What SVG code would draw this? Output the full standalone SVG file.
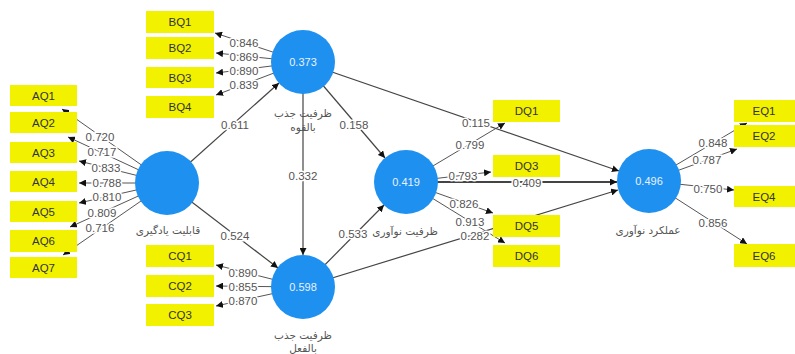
<svg xmlns="http://www.w3.org/2000/svg" width="795" height="354" viewBox="0 0 795 354">
<defs>
<marker id="ah" viewBox="0 0 8 8" refX="8" refY="4" markerWidth="7" markerHeight="7" markerUnits="userSpaceOnUse" orient="auto">
<path d="M0,0 L8,4 L0,8 z" fill="#111"/>
</marker>
</defs>
<style>
.ln{stroke:#555;stroke-width:1;fill:none;marker-end:url(#ah)}
.in{stroke:#444;stroke-width:1.2;fill:none;marker-end:url(#ah)}
.lb{font-family:"Liberation Sans",Arial,sans-serif;font-size:11.5px;fill:#555;text-anchor:middle;dominant-baseline:central;stroke:#fff;stroke-width:3;paint-order:stroke}
.box rect{fill:#f2f200}
.box text{font-family:"Liberation Sans",Arial,sans-serif;font-size:11.5px;fill:#333;text-anchor:middle;dominant-baseline:central}
.lv circle{fill:#1e90f0}
.val{font-family:"Liberation Sans",Arial,sans-serif;font-size:11px;fill:#e8f2ff;text-anchor:middle;dominant-baseline:central}
.fa{font-family:"DejaVu Sans","Noto Sans",sans-serif;font-size:10.5px;fill:#555;text-anchor:middle}
</style>
<rect width="795" height="354" fill="#fff"/>
<g id="connectors">
<line class="ln" x1="167" y1="183" x2="62" y2="109"/>
<line class="ln" x1="167" y1="183" x2="68" y2="137"/>
<line class="ln" x1="167" y1="183" x2="79" y2="161"/>
<line class="ln" x1="167" y1="183" x2="79" y2="183"/>
<line class="ln" x1="167" y1="183" x2="79" y2="203"/>
<line class="ln" x1="167" y1="183" x2="70" y2="227"/>
<line class="ln" x1="167" y1="183" x2="63" y2="255"/>
<line class="ln" x1="303" y1="62" x2="215" y2="33"/>
<line class="ln" x1="303" y1="62" x2="216" y2="53"/>
<line class="ln" x1="303" y1="62" x2="216" y2="73"/>
<line class="ln" x1="303" y1="62" x2="216" y2="95"/>
<line class="ln" x1="303" y1="287" x2="216" y2="265"/>
<line class="ln" x1="303" y1="287" x2="216" y2="286"/>
<line class="ln" x1="303" y1="287" x2="216" y2="306"/>
<line class="ln" x1="406" y1="182" x2="505" y2="123"/>
<line class="ln" x1="406" y1="182" x2="491" y2="172"/>
<line class="ln" x1="406" y1="182" x2="493" y2="213"/>
<line class="ln" x1="406" y1="182" x2="505" y2="243"/>
<line class="ln" x1="649" y1="181" x2="747" y2="123"/>
<line class="ln" x1="649" y1="181" x2="737" y2="149"/>
<line class="ln" x1="649" y1="181" x2="734" y2="190"/>
<line class="ln" x1="649" y1="181" x2="747" y2="244"/>
<line class="in" x1="167" y1="183" x2="279" y2="83"/>
<line class="in" x1="167" y1="183" x2="278" y2="268"/>
<line class="in" x1="303" y1="62" x2="303" y2="255"/>
<line class="in" x1="303" y1="62" x2="385" y2="158"/>
<line class="in" x1="303" y1="62" x2="619" y2="171"/>
<line class="in" x1="303" y1="287" x2="384" y2="205"/>
<line class="in" x1="303" y1="287" x2="618" y2="190"/>
<line class="in" x1="406" y1="182" x2="617" y2="182" style="stroke-width:1.8"/>
<text class="lb" x="100" y="137">0.720</text>
<text class="lb" x="102" y="152">0.717</text>
<text class="lb" x="106" y="168">0.833</text>
<text class="lb" x="107" y="183">0.788</text>
<text class="lb" x="107" y="197">0.810</text>
<text class="lb" x="102" y="213">0.809</text>
<text class="lb" x="100" y="228">0.716</text>
<text class="lb" x="244" y="43">0.846</text>
<text class="lb" x="244" y="57">0.869</text>
<text class="lb" x="244" y="71">0.890</text>
<text class="lb" x="244" y="85">0.839</text>
<text class="lb" x="243" y="273">0.890</text>
<text class="lb" x="243" y="287">0.855</text>
<text class="lb" x="243" y="301">0.870</text>
<text class="lb" x="235" y="125">0.611</text>
<text class="lb" x="235" y="236">0.524</text>
<text class="lb" x="303" y="176">0.332</text>
<text class="lb" x="354" y="125">0.158</text>
<text class="lb" x="476" y="123">0.115</text>
<text class="lb" x="353" y="234">0.533</text>
<text class="lb" x="475" y="236">0.282</text>
<text class="lb" x="527" y="183">0.409</text>
<text class="lb" x="470" y="145">0.799</text>
<text class="lb" x="463" y="176">0.793</text>
<text class="lb" x="464" y="204">0.826</text>
<text class="lb" x="470" y="222">0.913</text>
<text class="lb" x="713" y="143">0.848</text>
<text class="lb" x="707" y="160">0.787</text>
<text class="lb" x="708" y="189">0.750</text>
<text class="lb" x="713" y="223">0.856</text>
</g>
<g id="AQ1" class="box"><rect x="10" y="85" width="67" height="21"/><text x="43.5" y="95.5">AQ1</text></g>
<g id="AQ2" class="box"><rect x="10" y="112" width="67" height="21"/><text x="43.5" y="122.5">AQ2</text></g>
<g id="AQ3" class="box"><rect x="10" y="142" width="67" height="21"/><text x="43.5" y="152.5">AQ3</text></g>
<g id="AQ4" class="box"><rect x="10" y="171" width="67" height="21"/><text x="43.5" y="181.5">AQ4</text></g>
<g id="AQ5" class="box"><rect x="10" y="201" width="67" height="21"/><text x="43.5" y="211.5">AQ5</text></g>
<g id="AQ6" class="box"><rect x="10" y="230" width="67" height="22"/><text x="43.5" y="241">AQ6</text></g>
<g id="AQ7" class="box"><rect x="10" y="257" width="67" height="21"/><text x="43.5" y="267.5">AQ7</text></g>
<g id="BQ1" class="box"><rect x="146" y="11" width="68" height="22"/><text x="180" y="22">BQ1</text></g>
<g id="BQ2" class="box"><rect x="146" y="37" width="68" height="22"/><text x="180" y="48">BQ2</text></g>
<g id="BQ3" class="box"><rect x="146" y="67" width="68" height="21"/><text x="180" y="77.5">BQ3</text></g>
<g id="BQ4" class="box"><rect x="146" y="96" width="68" height="22"/><text x="180" y="107">BQ4</text></g>
<g id="CQ1" class="box"><rect x="146" y="245" width="68" height="22"/><text x="180" y="256">CQ1</text></g>
<g id="CQ2" class="box"><rect x="146" y="275" width="68" height="22"/><text x="180" y="286">CQ2</text></g>
<g id="CQ3" class="box"><rect x="146" y="304" width="68" height="22"/><text x="180" y="315">CQ3</text></g>
<g id="DQ1" class="box"><rect x="493" y="100" width="67" height="22"/><text x="526.5" y="111">DQ1</text></g>
<g id="DQ3" class="box"><rect x="493" y="155" width="67" height="22"/><text x="526.5" y="166">DQ3</text></g>
<g id="DQ5" class="box"><rect x="493" y="215" width="67" height="22"/><text x="526.5" y="226">DQ5</text></g>
<g id="DQ6" class="box"><rect x="493" y="245" width="67" height="22"/><text x="526.5" y="256">DQ6</text></g>
<g id="EQ1" class="box"><rect x="734" y="100" width="61" height="22"/><text x="764" y="111">EQ1</text></g>
<g id="EQ2" class="box"><rect x="734" y="125" width="61" height="22"/><text x="764" y="136">EQ2</text></g>
<g id="EQ4" class="box"><rect x="734" y="186" width="61" height="21"/><text x="764" y="196.5">EQ4</text></g>
<g id="EQ6" class="box"><rect x="734" y="244" width="61" height="23"/><text x="764" y="255.5">EQ6</text></g>
<g id="learning" class="lv"><circle cx="167" cy="183" r="32"/><text class="fa" x="168" y="234">قابلیت یادگیری</text></g>
<g id="potential" class="lv"><circle cx="303" cy="62" r="32"/><text class="val" x="303" y="62">0.373</text><text class="fa" x="303" y="117">ظرفیت جذب</text><text class="fa" x="303" y="131">بالقوه</text></g>
<g id="realized" class="lv"><circle cx="303" cy="287" r="32"/><text class="val" x="303" y="287">0.598</text><text class="fa" x="303" y="339">ظرفیت جذب</text><text class="fa" x="303" y="352">بالفعل</text></g>
<g id="innovcap" class="lv"><circle cx="406" cy="182" r="32"/><text class="val" x="406" y="182">0.419</text><text class="fa" x="405" y="235">ظرفیت نوآوری</text></g>
<g id="innovperf" class="lv"><circle cx="649" cy="181" r="32"/><text class="val" x="649" y="181">0.496</text><text class="fa" x="648" y="234">عملکرد نوآوری</text></g>
</svg>
